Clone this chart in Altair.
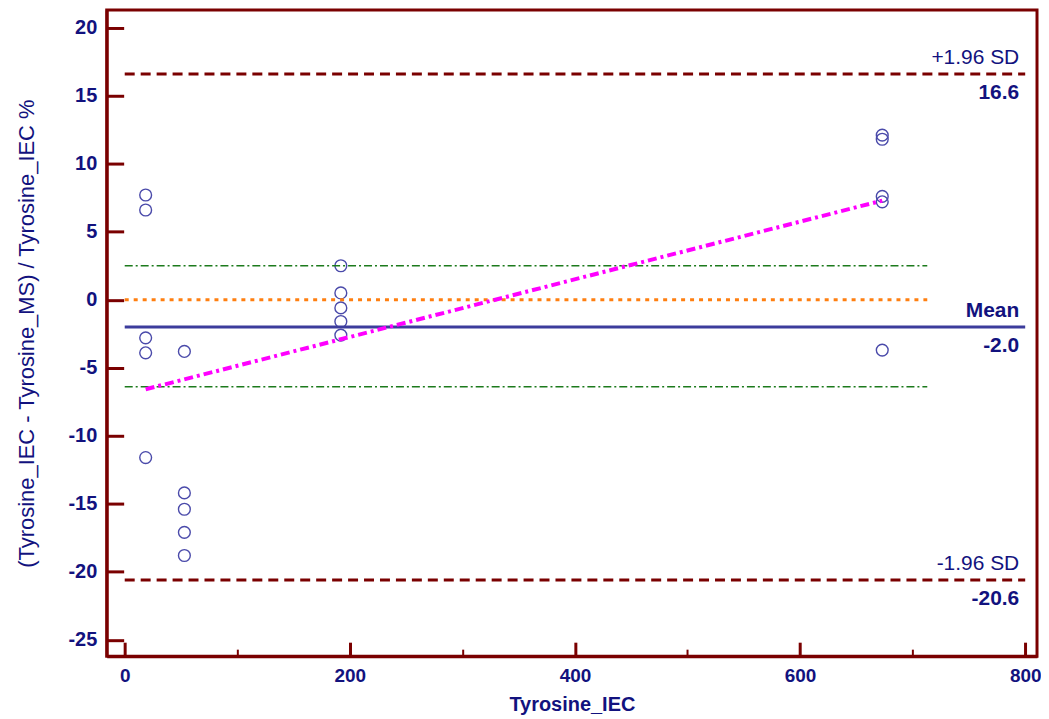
import altair as alt
import pandas as pd

# ---- data ----
pt_x = [18.6, 18.6, 18.6, 18.6, 18.6,
        53, 53, 53, 53, 53,
        192, 192, 192, 192, 192,
        673, 673, 673, 673, 673]
pt_y = [7.7, 6.6, -2.8, -3.9, -11.6,
        -3.8, -14.2, -15.4, -17.1, -18.8,
        2.5, 0.5, -0.6, -1.6, -2.6,
        12.1, 11.8, 7.6, 7.2, -3.7]

mean_val = -2.0
upper_loa = 16.6
lower_loa = -20.6
ci_upper = 2.5
ci_lower = -6.4
zero_line = 0.0
loa_x_start, loa_x_end = 0, 800
ci_x_start, ci_x_end = 0, 713

reg_x = [18.6, 673]
reg_y = [-6.58, 7.29]

x_major = [0, 200, 400, 600, 800]
x_minor = [100, 300, 500, 700]
y_ticks = [-25, -20, -15, -10, -5, 0, 5, 10, 15, 20]

sd_labels = ["+1.96 SD", "-1.96 SD"]
sd_label_y = [upper_loa, lower_loa]
mean_label = ["Mean"]
mean_label_y = [mean_val]
val_labels = ["16.6", "-2.0", "-20.6"]
val_label_y = [upper_loa, mean_val, lower_loa]

x_title = "Tyrosine_IEC"
y_title = "(Tyrosine_IEC - Tyrosine_MS) / Tyrosine_IEC %"

# ---- styling ----
MAROON = "#7a0000"
NAVY = "#12127e"
PT_COL = "#4a4aaa"
FONT = "Liberation Sans"
W, H = 933, 648
HYPHEN_EXPR = "replace(datum.label, '\u2212', '-')"

xs = alt.Scale(domain=[-16, 810.5], nice=False, zero=False)
ys = alt.Scale(domain=[-26.2, 21.3], nice=False, zero=False)

pts = pd.DataFrame({"x": pt_x, "y": pt_y})
reg = pd.DataFrame({"x": reg_x, "y": reg_y})

x_main_axis = alt.Axis(values=x_major, format="d", labelExpr=HYPHEN_EXPR, ticks=False, tickSize=0,
                       grid=False, domainColor=MAROON, domainWidth=3, labelPadding=10,
                       labelFont=FONT, labelFontSize=19, labelFontWeight="bold", labelColor=NAVY,
                       title=x_title, titleFont=FONT, titleFontSize=20, titleFontWeight="bold",
                       titleColor=NAVY, titlePadding=10)
y_main_axis = alt.Axis(values=y_ticks, format="d", labelExpr=HYPHEN_EXPR, ticks=False, tickSize=0,
                       grid=False, domainColor=MAROON, domainWidth=3, labelPadding=10,
                       labelFont=FONT, labelFontSize=20, labelFontWeight="bold", labelColor=NAVY,
                       title=y_title, titleFont=FONT, titleFontSize=22, titleFontWeight="normal",
                       titleColor=NAVY, titlePadding=30)

points = alt.Chart(pts).mark_point(shape="circle", filled=False, color=PT_COL,
                                   size=140, strokeWidth=1.4, opacity=1).encode(
    x=alt.X("x:Q", scale=xs, axis=x_main_axis),
    y=alt.Y("y:Q", scale=ys, axis=y_main_axis),
)

# inward major ticks
tick_layer = alt.Chart(pts).mark_point(opacity=0).encode(
    x=alt.X("x:Q", scale=xs, axis=alt.Axis(orient="top", offset=-H, values=x_major, tickSize=14,
                                             tickWidth=3, tickColor=MAROON, labels=False,
                                             domain=False, grid=False, title=None)),
    y=alt.Y("y:Q", scale=ys, axis=alt.Axis(orient="right", offset=-W, values=y_ticks, tickSize=17,
                                             tickWidth=3, tickColor=MAROON, labels=False,
                                             domain=False, grid=False, title=None)),
)
# inward minor ticks
minor_layer = alt.Chart(pts).mark_point(opacity=0).encode(
    x=alt.X("x:Q", scale=xs, axis=alt.Axis(orient="top", offset=-H, values=x_minor, tickSize=7,
                                             tickWidth=2, tickColor=MAROON, labels=False,
                                             domain=False, grid=False, title=None)),
    y=alt.Y("y:Q", scale=ys, axis=None),
)


def hline(val, x0, x1, color, width, dash):
    d = pd.DataFrame({"y": [val], "x": [x0], "x2": [x1]})
    kw = dict(color=color, strokeWidth=width)
    if dash:
        kw["strokeDash"] = dash
    return alt.Chart(d).mark_rule(**kw).encode(
        x=alt.X("x:Q", scale=xs, axis=None), x2="x2:Q", y=alt.Y("y:Q", scale=ys, axis=None))


l_up = hline(upper_loa, loa_x_start, loa_x_end, MAROON, 3, [10, 6])
l_lo = hline(lower_loa, loa_x_start, loa_x_end, MAROON, 3, [10, 6])
l_mean = hline(mean_val, loa_x_start, loa_x_end, "#3c3c9c", 3, None)
l_zero = hline(zero_line, ci_x_start, ci_x_end, "#ff7f10", 3, [4, 5])
l_ciu = hline(ci_upper, ci_x_start, ci_x_end, "#1c7a1c", 1.6, [8, 3, 2, 3])
l_cil = hline(ci_lower, ci_x_start, ci_x_end, "#1c7a1c", 1.6, [8, 3, 2, 3])

reg_line = alt.Chart(reg).mark_line(color="#ff00ff", strokeWidth=4,
                                    strokeDash=[9, 4, 3, 4]).encode(
    x=alt.X("x:Q", scale=xs, axis=None), y=alt.Y("y:Q", scale=ys, axis=None))


def text_layer(labels, yvals, dy, weight):
    d = pd.DataFrame({"x": [loa_x_end] * len(labels), "y": yvals, "t": labels})
    return alt.Chart(d).mark_text(align="right", baseline="middle", dy=dy, dx=-6,
                                  font=FONT, fontSize=21, fontWeight=weight, color=NAVY).encode(
        x=alt.X("x:Q", scale=xs, axis=None), y=alt.Y("y:Q", scale=ys, axis=None), text="t:N")


t_sd = text_layer(sd_labels, sd_label_y, -16, "normal")
t_mean = text_layer(mean_label, mean_label_y, -16, "bold")
t_vals = text_layer(val_labels, val_label_y, 19, "bold")

chart = alt.layer(
    points, tick_layer, minor_layer,
    l_zero, l_ciu, l_cil, l_up, l_lo, l_mean, reg_line, t_sd, t_mean, t_vals,
).resolve_axis(x="independent", y="independent").properties(
    width=W, height=H,
    autosize=alt.AutoSizeParams(type="none"),
    padding={"left": 99, "top": 1, "right": 4, "bottom": 58},
).configure_view(stroke=MAROON, strokeWidth=3)

chart.save("out.html", embed_options={"renderer": "svg", "actions": False})
